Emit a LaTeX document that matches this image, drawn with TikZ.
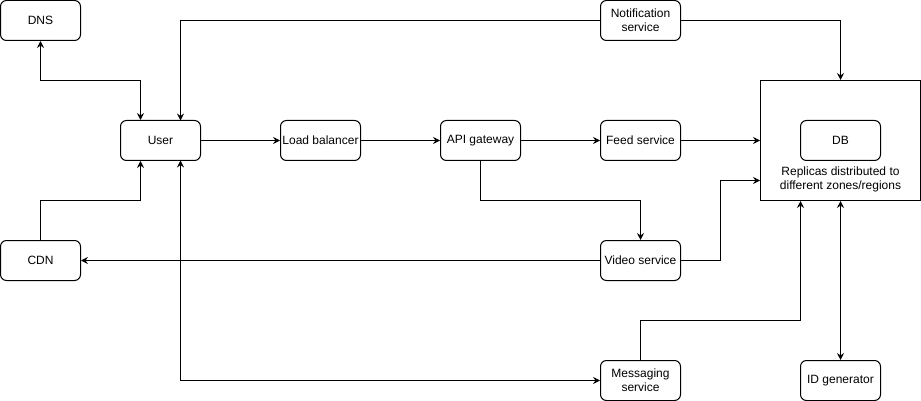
\documentclass[tikz,border=0pt]{standalone}
\usepackage{fontspec}
\setmainfont{Liberation Sans}
\usetikzlibrary{arrows.meta}
\begin{document}
\begin{tikzpicture}[x=1pt,y=-1pt,
  box/.style={draw,rounded corners=6pt,line width=1pt,minimum width=80pt,minimum height=40pt,inner sep=1pt,align=center,font=\fontsize{12}{14}\selectfont},
  conn/.style={line width=1pt,-{Stealth[length=7pt,width=7pt,inset=2.5pt]}},
  bconn/.style={line width=1pt,{Stealth[length=7pt,width=7pt,inset=2.5pt]}-{Stealth[length=7pt,width=7pt,inset=2.5pt]}}]
\useasboundingbox (0,0) rectangle (921,401);
\node[box] (dns) at (40.5,20.5) {DNS};
\node[box] (user) at (160.5,140.5) {User};
\node[box] (cdn) at (40.5,260.5) {CDN};
\node[box] (lb) at (320.5,140.5) {Load balancer};
\node[box] (api) at (480.5,140.5) {API gateway};
\node[box] (feed) at (640.5,140.5) {Feed service};
\node[box] (notif) at (640.5,20.5) {Notification\\service};
\node[box] (video) at (640.5,260.5) {Video service};
\node[box] (msg) at (640.5,380.5) {Messaging\\service};
\node[draw,line width=1pt,minimum width=160pt,minimum height=120pt,inner sep=0pt] (dbouter) at (840.5,140.5) {};
\node[box] (db) at (840.5,140.5) {DB};
\node[align=center,font=\fontsize{12}{14}\selectfont,inner sep=0pt] (rep) at (840.5,179) {Replicas distributed to\\different zones/regions};
\node[box] (idg) at (840.5,380.5) {ID generator};
% edges
\draw[bconn] (dns.south) |- (140.5,80.5) coordinate (c1) -- (c1 |- user.north);
\draw[conn] (notif.west) -| (180.5,120.5) coordinate (c2);
\draw[conn] (notif.east) -| (dbouter.north);
\draw[conn] (user.east) -- (lb.west);
\draw[conn] (lb.east) -- (api.west);
\draw[conn] (api.east) -- (feed.west);
\draw[conn] (feed.east) -- (dbouter.west);
\draw[conn] (api.south) |- (640.5,200.5) -- (video.north);
\draw[conn] (video.east) -| (720.5,180.5) coordinate (c3) -- (c3 -| dbouter.west);
\draw[conn] (video.west) -- (cdn.east);
\draw[conn] (cdn.north) |- (140.5,200.5) coordinate (c4) -- (c4 |- user.south);
\draw[bconn] (180.5,160.5) coordinate (c5) |- (msg.west);
\draw[conn] (msg.north) |- (800.5,320.5) coordinate (c6) -- (c6 |- dbouter.south);
\draw[bconn] (dbouter.south) -- (idg.north);
\end{tikzpicture}
\end{document}
